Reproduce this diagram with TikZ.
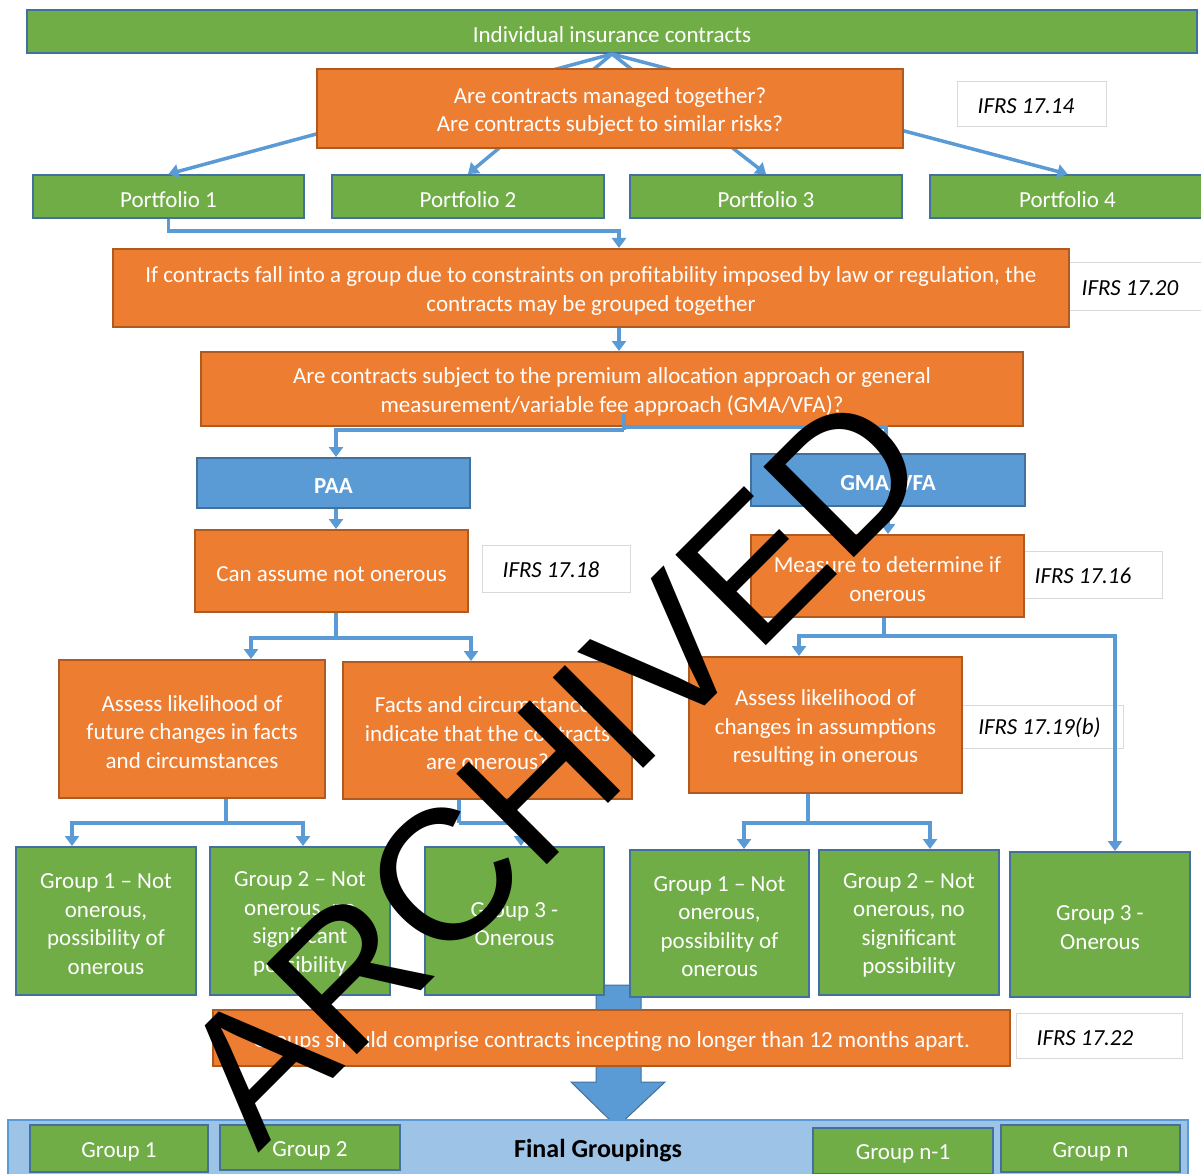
\documentclass[tikz,border=0pt]{standalone}
\usepackage{fontspec}
\setmainfont{Carlito}
\newfontfamily\wmfont{Liberation Sans}
\usetikzlibrary{arrows.meta,calc}
\definecolor{grn}{HTML}{70AD47}
\definecolor{grnb}{HTML}{41719C}
\definecolor{org}{HTML}{ED7D31}
\definecolor{orgb}{HTML}{AE5A21}
\definecolor{blu}{HTML}{5B9BD5}
\definecolor{blub}{HTML}{41719C}
\definecolor{lbar}{HTML}{9DC3E6}
\definecolor{refb}{HTML}{D9D9D9}
\tikzset{
  base/.style={line width=2pt, inner sep=0pt},
  tx/.style={align=center, inner sep=0pt, text=white,
    font=\fontsize{23}{28.5}\selectfont},
  btx/.style={tx, font=\fontsize{23}{28.5}\selectfont\bfseries},
  itx/.style={tx, text=black, font=\fontsize{23}{28.5}\selectfont\itshape},
  gbox/.style={base, fill=grn, draw=grnb},
  obox/.style={base, fill=org, draw=orgb},
  bbox/.style={base, fill=blu, draw=blub},
  refbox/.style={base, fill=white, draw=refb, line width=1pt},
  conn/.style={draw=blu, line width=3.5pt},
  arr/.style={conn, -{Triangle[length=10pt,width=14pt]}},
  sz/.style 2 args={minimum width=#1pt, minimum height=#2pt},
}
% box with its text set 3px lower than the centre
\newcommand\mybox[8]{%
  \node[#1, sz={#6}{#7}] (#3) at (#4,#5) {};
  \node[#2] (#3t) at (#4,#5+3) {#8};}
\begin{document}
\begin{tikzpicture}[x=1pt,y=-1pt]
\useasboundingbox (0,0) rectangle (1201,1174);
\fill[white] (0,0) rectangle (1201,1174);

% top
\mybox{gbox}{tx}{top}{612}{31.5}{1170}{43}{Individual insurance contracts}
% portfolios
\mybox{gbox}{tx}{p1}{168.5}{196.5}{271}{43}{Portfolio 1}
\mybox{gbox}{tx}{p2}{468}{196.5}{272}{43}{Portfolio 2}
\mybox{gbox}{tx}{p3}{766}{196.5}{272}{43}{Portfolio 3}
\mybox{gbox}{tx}{p4}{1067.5}{196.5}{275}{43}{Portfolio 4}
% fan arrows
\foreach \p in {p1,p2,p3,p4} \draw[arr] (top.south) -- (\p.north);
\mybox{obox}{tx}{q1}{610}{108.5}{586}{79}{Are contracts managed together?\\Are contracts subject to similar risks?}
\node[refbox, sz={149}{45}] (r14) at (1031.5,104.5) {};
\node[itx] (r14t) at (1026,106) {IFRS 17.14};

% second question
\node[refbox, sz={141}{48}] (r20) at (1130.5,286) {};
\node[itx] (r20t) at (1130,288) {IFRS 17.20};
\mybox{obox}{tx}{q2}{591}{288}{956}{78}{If contracts fall into a group due to constraints on profitability imposed by law or regulation, the\\contracts may be grouped together}
\draw[arr] (p1.south) -- ++(0,12) -| ($(q2.north)+(28,0)$);

\mybox{obox}{tx}{q3}{612}{389}{822}{74}{Are contracts subject to the premium allocation approach or general\\measurement/variable fee approach (GMA/VFA)?}
\draw[arr] ($(q2.south)+(28,0)$) -- ($(q3.north)+(7,0)$);

\mybox{bbox}{btx}{paa}{333.5}{483}{273}{50}{PAA}
\mybox{bbox}{btx}{gma}{888}{480}{274}{52}{GMA/VFA}
\coordinate (q3s) at ($(q3.south)+(12,-14)$);
\draw[conn] (q3s) -- ++(0,17) coordinate (sp);
\draw[arr] (sp) -| ($(paa.north)+(2.5,0)$);
\draw[arr] ($(sp)+(0,-3)$) -| ($(gma.north)+(-2,0)$);

\mybox{obox}{tx}{can}{331.5}{571}{273}{82}{Can assume not onerous}
\node[refbox, sz={148}{47}] (r18) at (556,568.5) {};
\node[itx] (r18t) at (551,570) {IFRS 17.18};
\node[refbox, sz={158}{47}] (r16) at (1083,574.5) {};
\node[itx] (r16t) at (1083,576) {IFRS 17.16};
\mybox{obox}{tx}{meas}{887.5}{576}{273}{82}{Measure to determine if\\onerous}
\draw[arr] ($(paa.south)+(2.5,0)$) -- ($(can.north)+(4.5,0)$);
\draw[arr] (gma.south) -- ($(meas.north)+(0.5,0)$);

\mybox{obox}{tx}{as1}{192}{729}{266}{138}{Assess likelihood of\\future changes in facts\\and circumstances}
\mybox{obox}{tx}{facts}{487.5}{730.5}{289}{137}{Facts and circumstances\\indicate that the contracts\\are onerous?}
\node[refbox, sz={167}{43}] (r19) at (1039.5,726.5) {};
\node[itx] (r19t) at (1039.5,728) {IFRS 17.19(\textit{b})};
\mybox{obox}{tx}{as2}{825.5}{725}{273}{136}{Assess likelihood of\\changes in assumptions\\resulting in onerous}

\draw[conn] ($(can.south)+(4.5,0)$) -- ++(0,25) coordinate (c1);
\draw[arr] (c1) -| ($(as1.north)+(59,0)$);
\draw[arr] (c1) -| ($(facts.north)+(-16.5,0)$);
\draw[conn] ($(meas.south)+(-3.5,0)$) -- ++(0,18) coordinate (c2);
\draw[arr] (c2) -| ($(as2.north)+(-26.5,0)$);

% block arrow (behind)
\fill[blu, draw=blub, line width=1pt] (596,985) -- (641,985) -- (641,1082) -- (665,1082) -- (617,1127) -- (571,1082) -- (596,1082) -- cycle;

\mybox{gbox}{tx}{lg1}{106}{921}{180}{148}{Group 1 -- Not\\onerous,\\possibility of\\onerous}
\mybox{gbox}{tx}{lg2}{300}{921}{180}{148}{Group 2 -- Not\\onerous, no\\significant\\possibility}
\mybox{gbox}{tx}{lg3}{514.5}{921}{179}{148}{Group 3 -\\Onerous}
\mybox{gbox}{tx}{rg1}{719.5}{923.5}{179}{147}{Group 1 -- Not\\onerous,\\possibility of\\onerous}
\mybox{gbox}{tx}{rg2}{909}{922.5}{180}{145}{Group 2 -- Not\\onerous, no\\significant\\possibility}
\mybox{gbox}{tx}{rg3}{1100}{924.5}{180}{145}{Group 3 -\\Onerous}

\draw[arr] (c2) -| ($(rg3.north)+(15,0)$);

\draw[conn] ($(as1.south)+(34,0)$) -- ++(0,24) coordinate (c3);
\draw[arr] (c3) -| ($(lg1.north)+(-34,0)$);
\draw[arr] (c3) -| ($(lg2.north)+(3,0)$);
\draw[conn] ($(facts.south)+(-28.5,0)$) -- ++(0,23) coordinate (c4);
\draw[arr] (c4) -| ($(lg3.north)+(6.5,0)$);
\draw[conn] ($(as2.south)+(-17.5,0)$) -- ++(0,29) coordinate (c5);
\draw[arr] (c5) -| ($(rg1.north)+(24.5,0)$);
\draw[arr] (c5) -| ($(rg2.north)+(21,0)$);

\mybox{obox}{tx}{q4}{611.5}{1038}{797}{56}{Groups should comprise contracts incepting no longer than 12 months apart.}
\node[refbox, sz={166}{45}] (r22) at (1099,1035.5) {};
\node[itx] (r22t) at (1085,1038) {IFRS 17.22};

% final groupings
\node[base, fill=lbar, draw=blu, sz={1180}{60}] (fin) at (598,1150) {};
\node[tx, text=black, font=\fontsize{26}{28}\selectfont\bfseries] (fint) at (598,1151) {Final Groupings};
\mybox{gbox}{tx}{f1}{119}{1148.5}{178}{47}{Group 1}
\mybox{gbox}{tx}{f2}{310}{1147.5}{180}{45}{Group 2}
\mybox{gbox}{tx}{fn1}{903}{1151}{180}{46}{Group n-1}
\mybox{gbox}{tx}{fn}{1090.5}{1148.5}{179}{47}{Group n}

% watermark
\node[rotate=45, anchor=base, inner sep=0pt, text=black,
  font=\wmfont\fontsize{186}{186}\selectfont] (wm) at (598.5,813.3) {ARCHIVED};
\end{tikzpicture}
\end{document}
